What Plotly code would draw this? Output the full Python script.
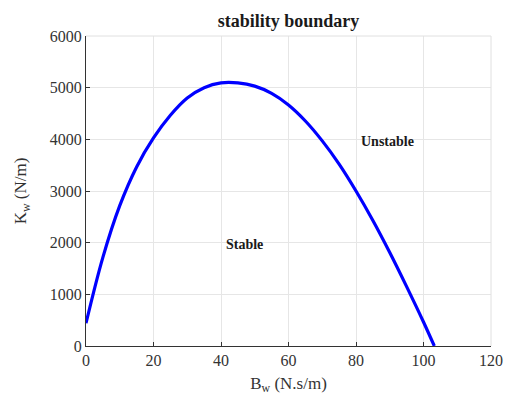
import plotly.graph_objects as go

# Stability boundary
B_w = [0, 5, 10, 15, 20, 25, 30, 35, 40, 45, 50, 55, 60, 65, 70, 75, 80, 85, 90, 95, 100, 103.2]
K_w = [441, 1716, 2716, 3466, 4026, 4466, 4800, 5000, 5092, 5092, 5030, 4890, 4665, 4355, 3970, 3520, 3000, 2430, 1810, 1150, 465, 0]

x_ticks = [0, 20, 40, 60, 80, 100, 120]
y_ticks = [0, 1000, 2000, 3000, 4000, 5000, 6000]

region_labels = ["Stable", "Unstable"]
region_x = [47.1, 89.3]
region_y = [1974, 3967]

serif = "Liberation Serif, Times New Roman, serif"

fig = go.Figure()
fig.add_trace(go.Scatter(x=B_w, y=K_w, mode="lines",
                         line=dict(color="#0000FF", width=3.2, shape="spline", smoothing=1.0),
                         showlegend=False, hoverinfo="skip"))

for t, xx, yy in zip(region_labels, region_x, region_y):
    fig.add_annotation(x=xx, y=yy, text="<b>" + t + "</b>", showarrow=False,
                       font=dict(family=serif, size=14, color="#1a1a1a"))

axis_common = dict(showgrid=True, gridcolor="#e6e6e6", gridwidth=1,
                   showline=True, linecolor="#333333", linewidth=1,
                   ticks="inside", ticklen=4, tickcolor="#333333",
                   tickfont=dict(family=serif, size=16, color="#333333"),
                   zeroline=False, mirror=False, automargin=False)

fig.update_xaxes(range=[0, 120], tickvals=x_ticks, **axis_common,
                 title=dict(text="B<sub>w</sub> (N.s/m)", standoff=8,
                            font=dict(family=serif, size=17, color="#333333")))
fig.update_yaxes(range=[0, 6000], tickvals=y_ticks, **axis_common,
                 title=dict(text="K<sub>w</sub> (N/m)", standoff=18,
                            font=dict(family=serif, size=17, color="#333333")))

# light frame on top and right like the reference
fig.add_shape(type="line", xref="paper", yref="paper", x0=0, x1=1, y0=1, y1=1,
              line=dict(color="#e0e0e0", width=1))
fig.add_shape(type="line", xref="paper", yref="paper", x0=1, x1=1, y0=0, y1=1,
              line=dict(color="#e0e0e0", width=1))

fig.update_layout(
    width=506, height=398,
    margin=dict(l=86, r=15, t=36, b=52),
    paper_bgcolor="white", plot_bgcolor="white",
    title=dict(text="<b>stability boundary</b>", x=(86 + 491) / 2 / 506, xanchor="center",
               y=1 - 21 / 398, yanchor="middle",
               font=dict(family=serif, size=18, color="#1a1a1a")),
)

fig.write_html("out.html")
